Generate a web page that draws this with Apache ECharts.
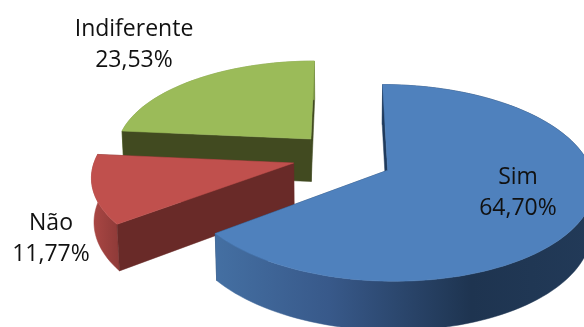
<!DOCTYPE html>
<html>
<head>
<meta charset="utf-8">
<style>html,body{margin:0;padding:0;background:#fff}#c{width:584px;height:327px}</style>
<script src="https://cdn.jsdelivr.net/npm/echarts@6/dist/echarts.min.js"></script>
</head>
<body>
<div id="c"></div>
<script>
const categories = ['Sim', 'Não', 'Indiferente'];
const shares = [64.70, 11.77, 23.53];
const shareLabels = ['64,70%', '11,77%', '23,53%'];

// Slice look: top face, inner cut faces, outer rim gradient (left to right on screen)
const topColors = ['#4f81bd', '#c0504d', '#9bbb59'];
const cutColors = ['#1f3a5c', '#692a28', '#414a20'];
const rimStops = [
  [[0, '#446fa2'], [0.3, '#38598a'], [0.68, '#1e3450'], [1, '#223a58']],
  [[0, '#a84643'], [1, '#8e3a38']],
  [[0, '#7f9a48'], [1, '#7f9a48']]
];

// Disc-plane offset and radius of each exploded slice, and where its caption sits
const sliceOffsets = [[0.215, -0.105], [-0.24, -0.031], [-0.161, 0.225]];
const sliceRadii = [0.98, 0.97, 0.965];
const labelAnchors = [[518, 193], [51, 239], [134, 45]];
const stackOrder = [20, 10, 0];

// Projection of the tilted disc: perspective toward a vanishing point above the chart
const view = { ox: 343, oy: 160, rx: 205, ry: 96, persp: 0.13, depth: 44, sink: 0.01 };
function project(X, Y, low) {
  const w = 1 + view.persp * Y + (low ? view.sink : 0);
  return [view.ox + view.rx * X / w, view.oy + (-view.ry * Y + (low ? view.depth : 0)) / w];
}

const ARC_STEP = 2;
function sliceElements(i, startDeg, sweep) {
  const [ax, ay] = sliceOffsets[i];
  const radius = sliceRadii[i];
  const rimPoint = (deg) => {
    const t = deg * Math.PI / 180;
    return [ax + radius * Math.sin(t), ay + radius * Math.cos(t)];
  };
  const arc = [];
  const n = Math.ceil(sweep / ARC_STEP);
  for (let k = 0; k <= n; k++) arc.push(rimPoint(startDeg + sweep * k / n));
  const topArc = arc.map(p => project(p[0], p[1], false));
  const lowArc = arc.map(p => project(p[0], p[1], true));
  const apexTop = project(ax, ay, false);
  const apexLow = project(ax, ay, true);
  const z = stackOrder[i];

  const poly = (points, fill, layer) => ({
    type: 'polygon',
    shape: { points },
    style: { fill, stroke: fill, lineWidth: 0.5 },
    z2: z + layer,
    silent: true
  });
  const rimFill = {
    type: 'linear', global: true,
    x: Math.min(...lowArc.map(p => p[0])), y: 0,
    x2: Math.max(...lowArc.map(p => p[0])), y2: 0,
    colorStops: rimStops[i].map(s => ({ offset: s[0], color: s[1] }))
  };
  return [
    poly([apexTop, topArc[n], lowArc[n], apexLow], cutColors[i], 1),
    poly(topArc.concat(lowArc.slice().reverse()), rimFill, 2),
    poly([apexTop, topArc[0], lowArc[0], apexLow], cutColors[i], 3),
    poly([apexTop].concat(topArc), topColors[i], 4),
    {
      type: 'text',
      z2: 100,
      style: {
        x: labelAnchors[i][0], y: labelAnchors[i][1],
        text: categories[i] + '\n' + shareLabels[i],
        fill: '#111',
        font: '23px "Open Sans"',
        lineHeight: 31,
        align: 'center',
        verticalAlign: 'middle'
      }
    }
  ];
}

const chart = echarts.init(document.getElementById('c'), null, { renderer: 'canvas' });
const total = shares.reduce((a, b) => a + b, 0);
chart.setOption({
  animation: false,
  series: [{
    type: 'custom',
    coordinateSystem: 'none',
    data: shares,
    clip: false,
    renderItem(params, api) {
      const i = params.dataIndex;
      let before = 0;
      for (let k = 0; k < i; k++) before += shares[k];
      const startDeg = before / total * 360;
      const sweep = api.value(0) / total * 360;
      return { type: 'group', children: sliceElements(i, startDeg, sweep) };
    }
  }]
});
</script>
</body>
</html>
